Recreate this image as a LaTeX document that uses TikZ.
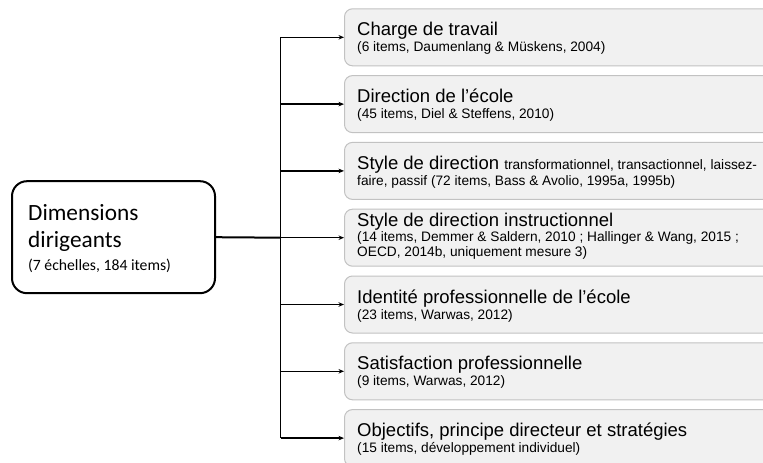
\documentclass[tikz,border=0pt]{standalone}
\usepackage{fontspec}
\newfontfamily\carl{Carlito}
\newfontfamily\ari{Liberation Sans}
\usetikzlibrary{arrows.meta}
\definecolor{boxfill}{HTML}{F1F1F1}
\definecolor{boxline}{HTML}{C2C2C2}
\tikzset{
  sub/.style={rectangle, rounded corners=8pt, draw=boxline, fill=boxfill, line width=1pt,
    minimum width=440pt, minimum height=57pt, anchor=north west, inner sep=0pt},
  big/.style={anchor=base west, inner sep=0pt, font=\ari\fontsize{18.5}{20}\selectfont},
  small/.style={anchor=base west, inner sep=0pt, font=\ari\fontsize{13.7}{15}\selectfont},
  conn/.style={line width=1.3pt, -{Stealth[length=5.5pt,width=4.5pt]}},
}
\begin{document}
\begin{tikzpicture}[x=1pt,y=-1pt]
\useasboundingbox (0,0) rectangle (763,463);
\clip (0,0) rectangle (763,463);
% main box
\node[rectangle, rounded corners=15pt, draw=black, line width=2pt, fill=white,
  minimum width=203pt, minimum height=112pt, inner sep=0pt] (dim) at (113.5,237.2) {};
\node[anchor=base west, inner sep=0pt, font=\carl\fontsize{23.3}{26}\selectfont] (d1) at (28,220) {Dimensions};
\node[anchor=base west, inner sep=0pt, font=\carl\fontsize{23.3}{26}\selectfont] (d2) at (28,247) {dirigeants};
\node[anchor=base west, inner sep=0pt, font=\carl\fontsize{15.7}{18}\selectfont] (d3) at (28,270) {(7 échelles, 184 items)};
% sub boxes
\node[sub] (b1) at (344,8.3) {};
\node[sub] (b2) at (344,75.1) {};
\node[sub] (b3) at (344,141.9) {};
\node[sub] (b4) at (344,208.7) {};
\node[sub] (b5) at (344,275.5) {};
\node[sub] (b6) at (344,342.3) {};
\node[sub] (b7) at (344,409.1) {};
% texts
\node[big] (t1a) at ([xshift=13pt,yshift=-27.5pt]b1.north west) {Charge de travail};
\node[small] (t1b) at ([xshift=13pt,yshift=-43.5pt]b1.north west) {(6 items, Daumenlang \& Müskens, 2004)};
\node[big] (t2a) at ([xshift=13pt,yshift=-27.5pt]b2.north west) {Direction de l’école};
\node[small] (t2b) at ([xshift=13pt,yshift=-43.5pt]b2.north west) {(45 items, Diel \& Steffens, 2010)};
\node[big] (t3a) at ([xshift=13pt,yshift=-27.5pt]b3.north west) {Style de direction {\fontsize{13.7}{15}\selectfont transformationnel, transactionnel, laissez-}};
\node[small] (t3b) at ([xshift=13pt,yshift=-43.5pt]b3.north west) {faire, passif (72 items, Bass \& Avolio, 1995a, 1995b)};
\node[big] (t4a) at ([xshift=13pt,yshift=-18.2pt]b4.north west) {Style de direction instructionnel};
\node[small] (t4b) at ([xshift=13pt,yshift=-33.2pt]b4.north west) {(14 items, Demmer \& Saldern, 2010 ; Hallinger \& Wang, 2015 ;};
\node[small] (t4c) at ([xshift=13pt,yshift=-48.2pt]b4.north west) {OECD, 2014b, uniquement mesure 3)};
\node[big] (t5a) at ([xshift=13pt,yshift=-27.5pt]b5.north west) {Identité professionnelle de l’école};
\node[small] (t5b) at ([xshift=13pt,yshift=-43.5pt]b5.north west) {(23 items, Warwas, 2012)};
\node[big] (t6a) at ([xshift=13pt,yshift=-27.5pt]b6.north west) {Satisfaction professionnelle};
\node[small] (t6b) at ([xshift=13pt,yshift=-43.5pt]b6.north west) {(9 items, Warwas, 2012)};
\node[big] (t7a) at ([xshift=13pt,yshift=-27.5pt]b7.north west) {Objectifs, principe directeur et stratégies};
\node[small] (t7b) at ([xshift=13pt,yshift=-43.5pt]b7.north west) {(15 items, développement individuel)};
% trunk
\foreach \i in {1,...,7} { \coordinate (k\i) at (280.5,0 |- b\i.west); }
\draw[line width=1.5pt] (k1) -- (k7);
\draw[line width=2pt] (dim.east) -- (k4);
\foreach \i in {1,...,7} { \draw[conn] (k\i) -- (b\i.west); }
\end{tikzpicture}
\end{document}
